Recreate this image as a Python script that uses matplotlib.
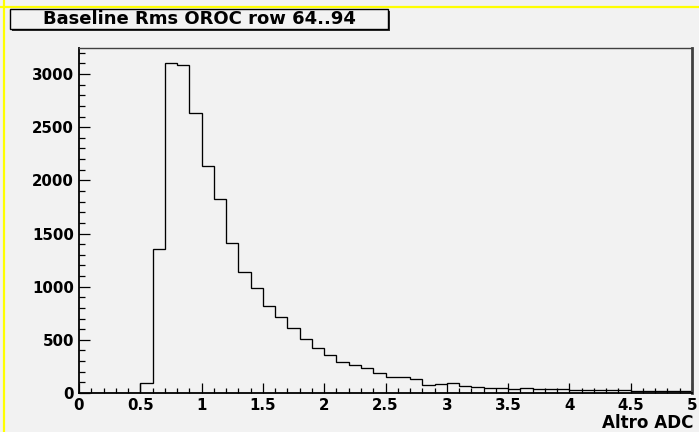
import numpy as np
import matplotlib
matplotlib.use("Agg")
import matplotlib.pyplot as plt
from matplotlib.patches import Rectangle
from matplotlib.lines import Line2D
from matplotlib.ticker import MultipleLocator

title = "Baseline Rms OROC row 64..94"
x_label = "Altro ADC"
x_min, x_max, n_bins = 0.0, 5.0, 50
counts = [0, 0, 0, 0, 3, 96, 1350, 3100, 3084, 2636,
          2134, 1823, 1409, 1140, 992, 823, 717, 613, 510, 421,
          362, 294, 268, 233, 190, 155, 155, 130, 75, 87,
          92, 70, 52, 45, 45, 40, 50, 35, 35, 35,
          28, 28, 28, 28, 28, 20, 20, 20, 18, 15]
x_ticks = [0, 0.5, 1, 1.5, 2, 2.5, 3, 3.5, 4, 4.5, 5]
x_tick_labels = ["0", "0.5", "1", "1.5", "2", "2.5", "3", "3.5", "4", "4.5", "5"]
y_ticks = [0, 500, 1000, 1500, 2000, 2500, 3000]
y_max = 3245

edges = np.linspace(x_min, x_max, n_bins + 1)

bg = "#f2f2f2"
W, H = 699, 432
plt.rcParams["font.family"] = ["DejaVu Sans"]
fig = plt.figure(figsize=(W / 100, H / 100), dpi=100, facecolor=bg)

L, R, T, B = 79, 692, 48, 393
ax = fig.add_axes([L / W, (H - B) / H, (R - L) / W, (B - T) / H], facecolor=bg)

ax.stairs(counts, edges, color="black", linewidth=0.95)

ax.set_xlim(x_min, x_max)
ax.set_ylim(0, y_max)
ax.set_xticks(x_ticks)
ax.set_xticklabels(x_tick_labels)
ax.set_yticks(y_ticks)
ax.set_yticklabels([str(v) for v in y_ticks])
ax.xaxis.set_minor_locator(MultipleLocator(0.1))
ax.yaxis.set_minor_locator(MultipleLocator(100))

tick_fs = 10.8
ax.tick_params(axis="x", which="major", direction="in", length=7.2, width=0.9,
               pad=3.5, labelsize=tick_fs, top=False)
ax.tick_params(axis="x", which="minor", direction="in", length=3.6, width=0.9, top=False)
ax.tick_params(axis="y", which="major", direction="in", length=7.6, width=0.9,
               pad=3.5, labelsize=tick_fs, right=False)
ax.tick_params(axis="y", which="minor", direction="in", length=4.6, width=0.9, right=False)
for lab in ax.get_xticklabels() + ax.get_yticklabels():
    lab.set_fontweight("bold")

ax.spines["left"].set_linewidth(1.3)
ax.spines["bottom"].set_linewidth(1.3)
ax.spines["top"].set_color("#404040")
ax.spines["top"].set_linewidth(1.0)
ax.spines["right"].set_color("#404040")
ax.spines["right"].set_linewidth(2.0)

renderer = fig.canvas.get_renderer()


def fit_width(txt, target_px):
    w = txt.get_window_extent(renderer=renderer).width
    txt.set_fontsize(txt.get_fontsize() * target_px / w)


# x axis title
xl = fig.text(693 / W, (H - 423.5) / H, x_label, ha="right", va="center",
              fontsize=11, fontweight="bold")
fit_width(xl, 91)

# title box with shadow
bx0, bx1, by0, by1 = 10, 388, 9, 29
fig.patches.append(Rectangle((bx0 / W + 2 / W, (H - by1 - 2) / H), (bx1 - bx0) / W, (by1 - by0) / H,
                             transform=fig.transFigure, facecolor="#303030", edgecolor="none", zorder=5))
fig.patches.append(Rectangle((bx0 / W, (H - by1) / H), (bx1 - bx0) / W, (by1 - by0) / H,
                             transform=fig.transFigure, facecolor=bg, edgecolor="black",
                             linewidth=1.0, zorder=6))
tt = fig.text((bx0 + bx1) / 2 / W, (H - (by0 + by1) / 2 - 0.5) / H, title, ha="center", va="center",
              fontsize=12, fontweight="bold", zorder=7)
fit_width(tt, 313)

# yellow pad border (left and top)
fig.add_artist(Line2D([3.5 / W, 3.5 / W], [0, 1], transform=fig.transFigure,
                      color="#ffff00", linewidth=1.6))
fig.add_artist(Line2D([0, 1], [(H - 6.5) / H, (H - 6.5) / H], transform=fig.transFigure,
                      color="#ffff00", linewidth=1.6))

fig.savefig("out.png", dpi=100, facecolor=bg)
